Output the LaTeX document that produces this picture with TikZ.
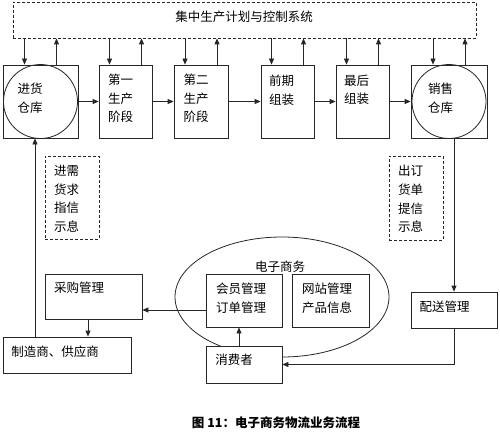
\documentclass[tikz,border=0pt]{standalone}
\usepackage{fontspec}
\setmainfont{Noto Sans CJK SC}
\usetikzlibrary{arrows.meta,calc,shapes.geometric}
\begin{document}
\begin{tikzpicture}[x=1pt,y=-1pt,
  box/.style={draw=black!85, line width=0.8pt, fill=white, inner sep=0pt},
  dbox/.style={draw=black!85, line width=0.8pt, dash pattern=on 3pt off 2pt, inner sep=0pt},
  txt/.style={inner sep=0pt, font=\fontsize{12.5}{18.6}\selectfont, align=center},
  arr/.style={draw=black!85, line width=0.8pt, -{Triangle[length=6pt,width=5pt]}},
  ring/.style={circle, draw=black!85, line width=0.8pt, inner sep=0pt, minimum size=74pt}]
\useasboundingbox (0,0) rectangle (500,444);

% top control system
\node[dbox, minimum width=463pt, minimum height=36pt] (top) at (244.5,20) {};
\node[txt] (toptxt) at (244,17) {集中生产计划与控制系统};

% production chain
\node[box, minimum width=75pt, minimum height=73pt] (s1) at (40.5,101.5) {};
\node[ring] (c1) at (40.5,101.5) {};
\node[txt] (t1) at (30,98.5) {进货\\仓库};
\node[box, minimum width=53pt, minimum height=73pt] (s2) at (125.5,101.5) {};
\node[txt] (t2) at (120.5,98.5) {第一\\生产\\阶段};
\node[box, minimum width=54pt, minimum height=73pt] (s3) at (201,101.5) {};
\node[txt] (t3) at (196,98.5) {第二\\生产\\阶段};
\node[box, minimum width=53pt, minimum height=73pt] (s4) at (287.5,101.5) {};
\node[txt] (t4) at (281.5,90) {前期\\组装};
\node[box, minimum width=53pt, minimum height=73pt] (s5) at (362.5,101.5) {};
\node[txt] (t5) at (356.5,90) {最后\\组装};
\node[box, minimum width=76pt, minimum height=73pt] (s6) at (449,101.5) {};
\node[ring] (c6) at (449,101.5) {};
\node[txt] (t6) at (440.5,98.5) {销售\\仓库};

\draw[arr] (s1) -- (s2);
\draw[arr] (s2) -- (s3);
\draw[arr] (s3) -- (s4);
\draw[arr] (s4) -- (s5);
\draw[arr] (s5) -- (s6);

\foreach \s in {s1,s2,s3,s4,s5,s6}{
  \coordinate (d\s) at ($(\s.north)+(-16,0)$);
  \coordinate (u\s) at ($(\s.north)+(16,0)$);
  \draw[arr] (top.south -| d\s) -- (d\s);
  \draw[arr] (u\s) -- (top.south -| u\s);
}

% info boxes
\node[dbox, minimum width=54pt, minimum height=83pt] (lin) at (72,197.5) {};
\node[txt] (lint) at (66.5,199) {进需\\货求\\指信\\示息};
\node[dbox, minimum width=54pt, minimum height=84pt] (rin) at (416,198) {};
\node[txt] (rint) at (410.5,199) {出订\\货单\\提信\\示息};

% e-commerce
\node[ellipse, draw=black!85, line width=0.8pt, minimum width=214pt, minimum height=120pt] (ec) at (282,297) {};
\node[txt] (ect) at (280,267) {电子商务};
\node[box, minimum width=76pt, minimum height=53pt] (hy) at (244,300.5) {};
\node[txt] (hyt) at (241,298) {会员管理\\订单管理};
\node[box, minimum width=77pt, minimum height=53pt] (wz) at (330.5,300.5) {};
\node[txt] (wzt) at (327,298) {网站管理\\产品信息};
\node[box, minimum width=76pt, minimum height=37pt] (xf) at (244,364.5) {};
\node[txt] (xft) at (234,360) {消费者};

% left lower
\node[box, minimum width=97pt, minimum height=45pt] (cg) at (93.5,296.5) {};
\node[txt] (cgt) at (79,288) {采购管理};
\node[box, minimum width=128pt, minimum height=36pt] (zz) at (67,355) {};
\node[txt] (zzt) at (55,352) {制造商、供应商};

% right lower
\node[box, minimum width=86pt, minimum height=36pt] (ps) at (454,310) {};
\node[txt] (pst) at (444.5,307) {配送管理};

% connectors
\coordinate (zt) at ($(zz.north)+(-32,0)$);
\draw[arr] (zt) -- (zt |- s1.south);
\coordinate (cb) at ($(cg.south)+(-5.5,0)$);
\draw[arr] (cb) -- (cb |- zz.north);
\coordinate (hw) at ($(hy.west)+(0,9.5)$);
\draw[arr] (hw) -- (hw -| cg.east);
\coordinate (xc) at ($(xf.north)+(-5,0)$);
\draw[arr] (xc) -- (xc |- hy.south);
\coordinate (q) at ($(s6.south)+(5,0)$);
\draw[arr] (q) -- (q |- ps.north);
\draw[arr] (ps.south) |- (xf.east);

% caption
\node[inner sep=0pt, font=\fontsize{12.5}{14}\selectfont\bfseries] (cap) at (276,423) {图 11：电子商务物流业务流程};
\end{tikzpicture}
\end{document}
